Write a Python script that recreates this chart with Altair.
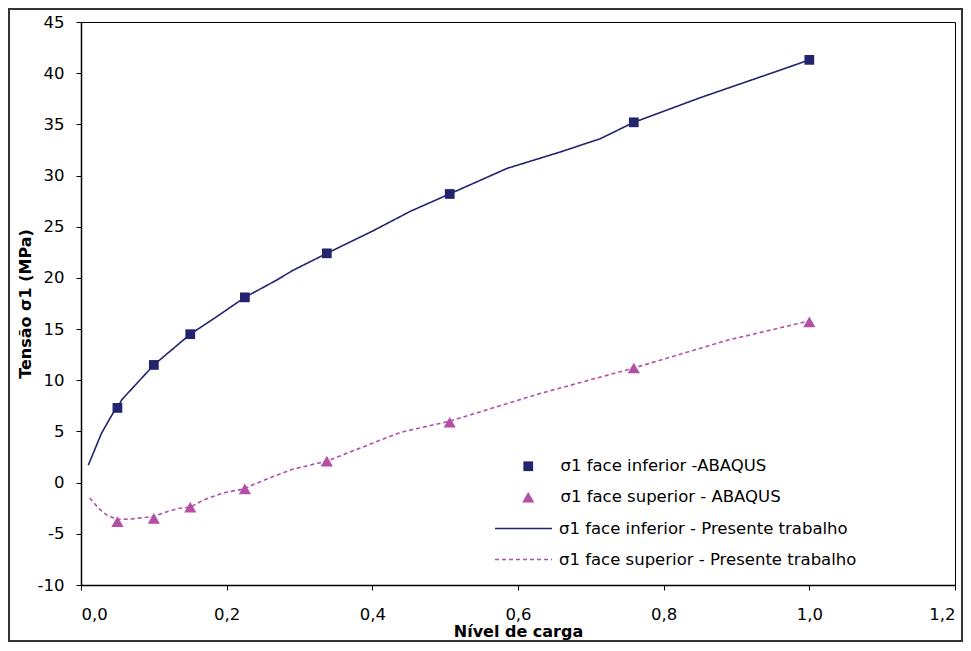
import altair as alt
import pandas as pd

# ABAQUS results (markers)
load_pts = [0.05, 0.1, 0.15, 0.225, 0.3375, 0.50625, 0.759, 1.0]
inf_abaqus = [7.3, 11.5, 14.5, 18.1, 22.4, 28.2, 35.2, 41.3]
sup_abaqus = [-3.8, -3.5, -2.4, -0.6, 2.1, 5.9, 11.2, 15.7]

# Presente trabalho (lines)
inf_x = [0.01, 0.028, 0.044, 0.05, 0.056, 0.1, 0.15, 0.184, 0.225, 0.269, 0.29,
         0.3375, 0.401, 0.452, 0.506, 0.585, 0.658, 0.713, 0.759, 0.85, 0.96, 1.0]
inf_y = [1.7, 4.8, 6.8, 7.3, 8.1, 11.5, 14.5, 16.1, 18.1, 19.8, 20.7,
         22.4, 24.6, 26.5, 28.2, 30.7, 32.3, 33.6, 35.2, 37.6, 40.3, 41.3]
sup_x = [0.012, 0.024, 0.036, 0.05, 0.07, 0.088, 0.1, 0.12, 0.135, 0.15, 0.168,
         0.195, 0.225, 0.236, 0.264, 0.29, 0.3375, 0.438, 0.506, 0.63, 0.759, 0.887, 1.0]
sup_y = [-1.5, -2.5, -3.2, -3.6, -3.55, -3.4, -3.3, -2.8, -2.5, -2.4, -1.7,
         -1.0, -0.6, -0.2, 0.6, 1.3, 2.1, 4.9, 6.0, 8.7, 11.2, 13.9, 15.8]

x_ticks = [0, 0.2, 0.4, 0.6, 0.8, 1.0, 1.2]
y_ticks = [-10, -5, 0, 5, 10, 15, 20, 25, 30, 35, 40, 45]

P_INF = "σ1 face inferior -ABAQUS"
P_SUP = "σ1 face superior - ABAQUS"
L_INF = "σ1 face inferior - Presente trabalho"
L_SUP = "σ1 face superior - Presente trabalho"

NAVY = "#23236f"
PURPLE = "#b44fa8"
FONT = "DejaVu Sans"
TRI = "M0,-1.1L1.25,1.1L-1.25,1.1Z"
LINE_SYM = "M-3,0H3"

pts = pd.DataFrame(
    {"x": load_pts * 2,
     "y": inf_abaqus + sup_abaqus,
     "s": [P_INF] * len(load_pts) + [P_SUP] * len(load_pts)}
)
lines = pd.DataFrame(
    {"x": inf_x + sup_x,
     "y": inf_y + sup_y,
     "s": [L_INF] * len(inf_x) + [L_SUP] * len(sup_x),
     "o": list(range(len(inf_x))) + list(range(len(sup_x)))}
)

xscale = alt.Scale(domain=[0, 1.2], nice=False, zero=False)
yscale = alt.Scale(domain=[-10, 45], nice=False, zero=False)

xaxis = alt.Axis(values=x_ticks, title="Nível de carga",
                 labelExpr="replace(format(datum.value, '.1f'), '.', ',')",
                 grid=False, tickSize=5, labelPadding=16, titlePadding=1)
yaxis = alt.Axis(values=y_ticks, title="Tensão σ1 (MPa)",
                 labelExpr="'' + datum.value",
                 grid=False, tickSize=5, labelPadding=12, titlePadding=4)

line_leg = dict(title=None, orient="none", legendX=432, legendY=496,
                symbolType=LINE_SYM, symbolSize=361, labelOffset=25, rowPadding=12,
                symbolStrokeWidth=1.6, labelLimit=400)
pt_leg = dict(title=None, orient="none", legendX=439, legendY=436,
              symbolSize=95, labelOffset=24, rowPadding=14, labelLimit=400)

line_layer = alt.Chart(lines).mark_line(strokeWidth=1.6).encode(
    x=alt.X("x:Q", scale=xscale, axis=xaxis),
    y=alt.Y("y:Q", scale=yscale, axis=yaxis),
    order="o:Q",
    color=alt.Color("s:N", scale=alt.Scale(domain=[L_INF, L_SUP], range=[NAVY, PURPLE]),
                    legend=alt.Legend(**line_leg)),
    strokeDash=alt.StrokeDash("s:N", scale=alt.Scale(domain=[L_INF, L_SUP], range=[[1, 0], [4, 3]]),
                              legend=alt.Legend(**line_leg)),
)

point_layer = alt.Chart(pts).mark_point(filled=True, opacity=1).encode(
    x=alt.X("x:Q", scale=xscale),
    y=alt.Y("y:Q", scale=yscale),
    color=alt.Color("s:N", scale=alt.Scale(domain=[P_INF, P_SUP], range=[NAVY, PURPLE]),
                    legend=alt.Legend(**pt_leg)),
    shape=alt.Shape("s:N", scale=alt.Scale(domain=[P_INF, P_SUP], range=["square", TRI]),
                    legend=alt.Legend(**pt_leg)),
    size=alt.value(95),
)

border = alt.Chart(pd.DataFrame({"a": [0]})).mark_rect(
    fill=None, stroke="#333333", strokeWidth=2, clip=False
).encode(x=alt.value(-72), x2=alt.value(881), y=alt.value(-13), y2=alt.value(619))

chart = alt.layer(line_layer, point_layer, border).resolve_scale(
    color="independent", shape="independent", strokeDash="independent"
).resolve_legend(color="independent").properties(
    width=874, height=563,
    background="white",
    autosize=alt.AutoSizeParams(type="none"),
    padding={"left": 73, "top": 14, "right": 8, "bottom": 58},
).configure_view(stroke="black", strokeWidth=1).configure_axis(
    domainColor="black", tickColor="black", labelColor="black", titleColor="black",
    labelFont=FONT, titleFont=FONT, labelFontSize=16.5, titleFontSize=16,
    titleFontWeight="bold", domainWidth=1.5,
).configure_legend(
    labelFont=FONT, labelFontSize=16.5, labelColor="black", labelLimit=400, padding=0,
)

chart.save("out.html", embed_options={"renderer": "svg", "actions": False})
